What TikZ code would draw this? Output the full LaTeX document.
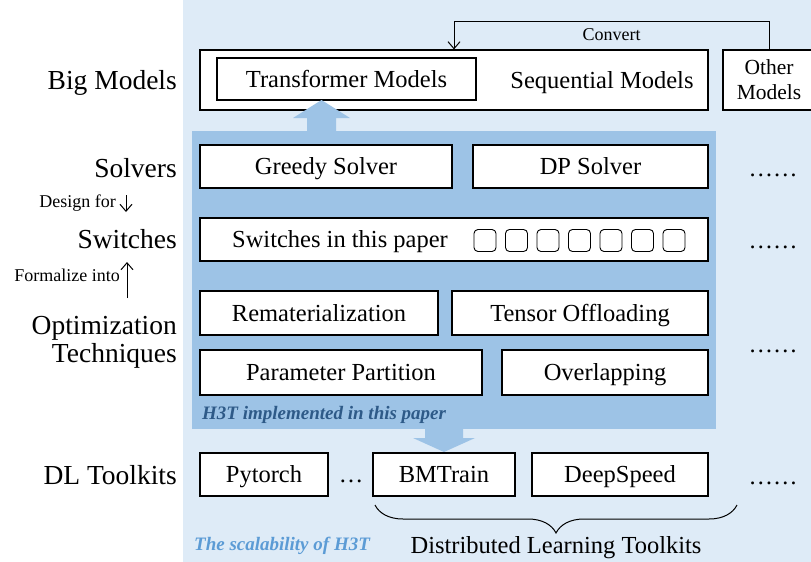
\documentclass[tikz,border=0pt]{standalone}
\usepackage{fontspec}
\setmainfont{Liberation Serif}
\usetikzlibrary{arrows.meta,decorations.pathreplacing,calc}

\definecolor{bglight}{HTML}{DEEBF7}
\definecolor{hthree}{HTML}{9DC3E6}
\definecolor{hthreedark}{HTML}{2E5A88}
\definecolor{hthreelight}{HTML}{5B9BD5}

\begin{document}
\begin{tikzpicture}[x=1pt, y=-1pt,
    frame/.style={draw, fill=white, line width=1.1pt, inner sep=0pt, font=\fontsize{24.5}{28}\selectfont},
    box/.style={frame, text height=18pt, text depth=2pt},
    plain/.style={inner sep=0pt, text height=18pt, text depth=2pt, font=\fontsize{24.5}{28}\selectfont},
    lab/.style={anchor=base east, inner sep=0pt, font=\fontsize{27.5}{30}\selectfont},
    small/.style={anchor=east, inner sep=0pt, font=\fontsize{18}{20}\selectfont},
    swsq/.style={draw, line width=0.9pt, rounded corners=4pt, minimum size=22pt, inner sep=0pt},
    moredots/.style={anchor=base, inner sep=0pt, font=\fontsize{24.5}{28}\selectfont},
    arr/.style={-{Straight Barb[length=7pt,width=12pt]}, line width=1pt}]
                    \useasboundingbox (0,0) rectangle (811,562);
                    \fill[bglight] (183,0) rectangle (811,562);
                    \fill[hthree] (192,131) rectangle (716,429);

                    \node[lab] (lbig) at (177,89) {Big Models};
                    \node[lab] (lsolv) at (177,177) {Solvers};
                    \node[lab] (lsw) at (177,248) {Switches};
                    \node[lab] (lopt) at (177,334) {Optimization};
                    \node[lab] (ltech) at (177,362) {Techniques};
                    \node[lab] (ldl) at (177,484) {DL Toolkits};
                    \node[small] (design) at (116,203) {Design for};
                    \node[small] (formalize) at (120,275) {Formalize into};
                    \draw[arr] ($(design.east)+(10,-8)$) -- ($(design.east)+(10,9)$);
                    \draw[arr] ($(formalize.east)+(7,23)$) -- ($(formalize.east)+(7,-13)$);

                    \node[box, minimum width=508, minimum height=60] (bigbox) at (454,80) {};
                    \node[box, minimum width=259, minimum height=42] (trans) at (346.5,79) {Transformer Models};
                    \node[plain] (seq) at (602,80) {Sequential Models};
                    \node[frame, minimum width=92, minimum height=60, align=center,
                          font=\fontsize{21.5}{25}\selectfont] (other) at (769,80) {Other\\Models};
                    \draw[arr] (other.north) -- ++(0,-28) -| (bigbox.north)
                        node[pos=0.25, below=3pt, font=\fontsize{18}{20}\selectfont] {Convert};

                    \fill[hthree] (307,131) -- (307,118) -- (293,118) -- (321.5,100)
                        -- (350,118) -- (336,118) -- (336,131) -- cycle;

                    \node[box, minimum width=252, minimum height=43] (greedy) at (326,166.5) {Greedy Solver};
                    \node[box, minimum width=235, minimum height=43] (dp) at (590.5,166.5) {DP Solver};

                    \node[box, minimum width=508, minimum height=43] (switches) at (454,239.5) {};
                    \node[plain] (swtext) at (340,239.5) {Switches in this paper};
                    \foreach \i in {0,...,6}
                        \node[swsq] (sq\i) at ({485+31.5*\i},240.5) {};

                    \node[box, minimum width=238, minimum height=44] (remat) at (319,313) {Rematerialization};
                    \node[box, minimum width=256, minimum height=44] (offload) at (580,313) {Tensor Offloading};
                    \node[box, minimum width=282, minimum height=45] (partition) at (341,372.5) {Parameter Partition};
                    \node[box, minimum width=206, minimum height=45] (overlap) at (605,372.5) {Overlapping};
                    \node[anchor=west, inner sep=0pt, text=hthreedark, font=\fontsize{19}{22}\selectfont\bfseries\itshape]
                        (h3t) at (202,415) {H3T implemented in this paper};

                    \fill[hthree] (425,429) -- (425,438) -- (413,438) -- (444,452)
                        -- (475,438) -- (463,438) -- (463,429) -- cycle;

                    \node[box, minimum width=128, minimum height=43] (pytorch) at (264,474.5) {Pytorch};
                    \node[moredots] (mid) at (351,482) {…};
                    \node[box, minimum width=142, minimum height=43] (bmtrain) at (444,474.5) {BMTrain};
                    \node[box, minimum width=176, minimum height=43] (deepspeed) at (620,474.5) {DeepSpeed};

                    \foreach \y/\n in {176/solv, 248.5/sw, 352.5/opt, 484.5/dl}
                        \node[moredots] (more\n) at (773,\y) {……};

                    \coordinate (bl) at (375,505);
                    \coordinate (br) at (737,505);
                    \draw[decorate, decoration={brace, mirror, amplitude=28pt}, line width=1pt] (bl) -- (br);
                    \node[plain] (dlt) at (556,545) {Distributed Learning Toolkits};
                    \node[inner sep=0pt, text=hthreelight, font=\fontsize{19}{22}\selectfont\bfseries\itshape]
                        (scal) at (282,546) {The scalability of H3T};
                \end{tikzpicture}
\end{document}
